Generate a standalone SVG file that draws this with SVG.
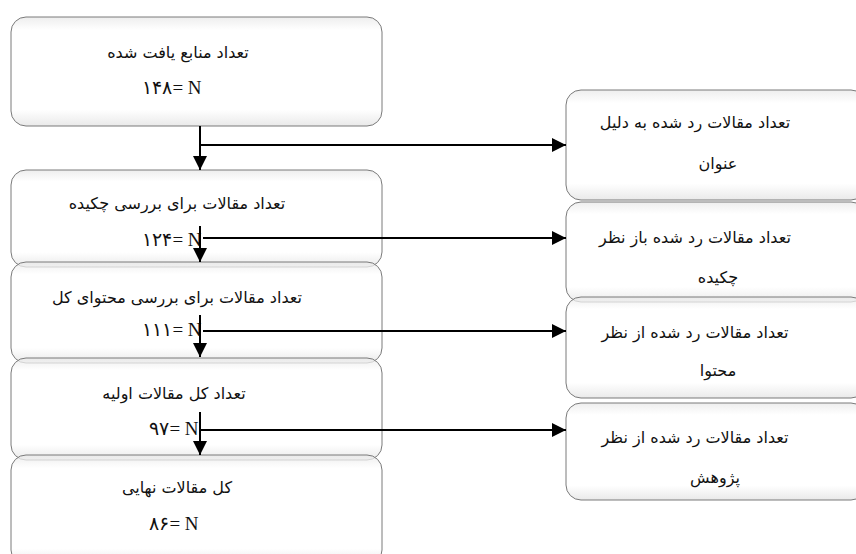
<svg xmlns="http://www.w3.org/2000/svg" width="856" height="554" viewBox="0 0 856 554">
<style>
.box{fill:url(#g);fill-opacity:0.75;stroke:#7a7a7a;stroke-width:1}
.t{font-family:"DejaVu Sans","Liberation Serif",serif;font-size:16px;fill:#111;text-anchor:middle}
.n{font-family:"Liberation Serif","DejaVu Serif",serif;font-size:19px;fill:#111;text-anchor:middle;direction:ltr;unicode-bidi:embed}
.c{stroke:#000;stroke-width:2;fill:none}
</style>
<defs>
<linearGradient id="g" x1="0" y1="0" x2="0" y2="1">
<stop offset="0" stop-color="#e8e8e8"/>
<stop offset="0.12" stop-color="#ffffff"/>
<stop offset="0.85" stop-color="#ffffff"/>
<stop offset="1" stop-color="#e2e2e2"/>
</linearGradient>
<marker id="ah" markerWidth="14" markerHeight="14" refX="14" refY="7" orient="auto" markerUnits="userSpaceOnUse">
<path d="M0,0 L14,7 L0,14 Z" fill="#000"/>
</marker>
</defs>
<g id="n1"><rect class="box" x="11" y="17" width="371" height="109" rx="15"/>
<text class="t" x="178" y="58">تعداد منابع یافت شده</text>
<text class="n" x="172" y="94">۱۴۸= N</text></g>
<g id="n2"><rect class="box" x="11" y="170" width="371" height="97" rx="15"/>
<text class="t" x="177" y="209">تعداد مقالات برای بررسی چکیده</text>
<text class="n" x="172" y="246">۱۲۴= N</text></g>
<g id="n3"><rect class="box" x="11" y="262" width="371" height="101" rx="15"/>
<text class="t" x="177" y="303">تعداد مقالات برای بررسی محتوای کل</text>
<text class="n" x="172" y="336">۱۱۱= N</text></g>
<g id="n4"><rect class="box" x="11" y="358" width="371" height="102" rx="15"/>
<text class="t" x="174" y="399">تعداد کل مقالات اولیه</text>
<text class="n" x="174" y="435">۹۷= N</text></g>
<g id="n5"><rect class="box" x="11" y="455" width="371" height="110" rx="15"/>
<text class="t" x="177" y="493">کل مقالات نهایی</text>
<text class="n" x="174" y="530">۸۶= N</text></g>
<g id="r1"><rect class="box" x="566" y="90" width="300" height="110" rx="15"/>
<text class="t" x="695" y="128">تعداد مقالات رد شده به دلیل</text>
<text class="t" x="718" y="169">عنوان</text></g>
<g id="r2"><rect class="box" x="566" y="202" width="300" height="100" rx="15"/>
<text class="t" x="695" y="243">تعداد مقالات رد شده باز نظر</text>
<text class="t" x="718" y="283">چکیده</text></g>
<g id="r3"><rect class="box" x="566" y="297" width="300" height="101" rx="15"/>
<text class="t" x="695" y="338">تعداد مقالات رد شده از نظر</text>
<text class="t" x="718" y="376">محتوا</text></g>
<g id="r4"><rect class="box" x="566" y="403" width="300" height="97" rx="15"/>
<text class="t" x="695" y="443">تعداد مقالات رد شده از نظر</text>
<text class="t" x="715" y="483">پژوهش</text></g>
<g id="connectors">
<line class="c" x1="200" y1="126" x2="200" y2="170" marker-end="url(#ah)"/>
<line class="c" x1="200" y1="145" x2="566" y2="145" marker-end="url(#ah)"/>
<line class="c" x1="200" y1="226" x2="200" y2="262" marker-end="url(#ah)"/>
<line class="c" x1="203" y1="238" x2="566" y2="238" marker-end="url(#ah)"/>
<line class="c" x1="200" y1="315" x2="200" y2="357" marker-end="url(#ah)"/>
<line class="c" x1="203" y1="331" x2="566" y2="331" marker-end="url(#ah)"/>
<line class="c" x1="200" y1="412" x2="200" y2="455" marker-end="url(#ah)"/>
<line class="c" x1="200" y1="430" x2="566" y2="430" marker-end="url(#ah)"/>
</g>
</svg>
